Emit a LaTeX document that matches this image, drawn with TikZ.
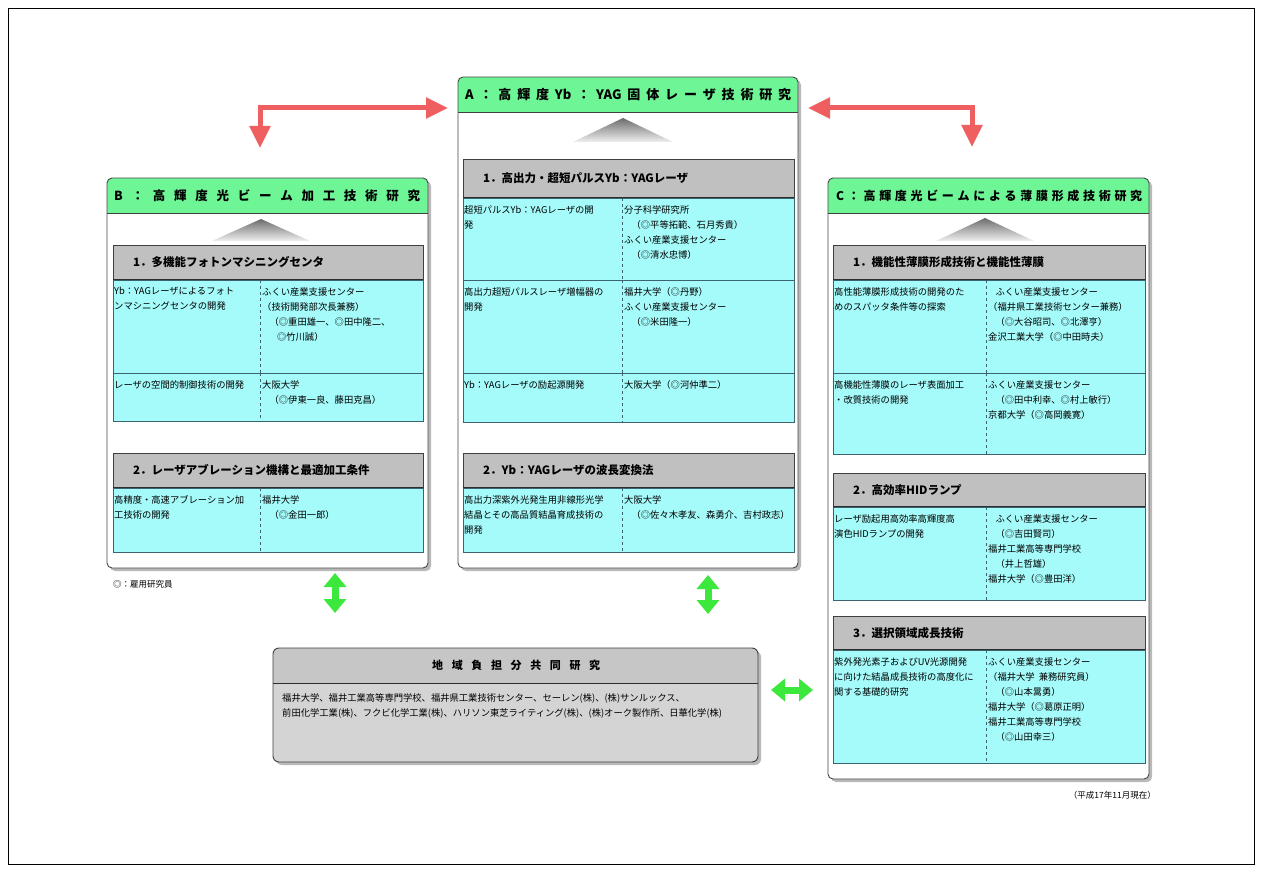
\documentclass[tikz,border=0pt]{standalone}
\usepackage{fontspec}
\setmainfont{Noto Sans CJK JP}
\usetikzlibrary{arrows.meta}
\definecolor{hdgreen}{RGB}{110,245,150}
\definecolor{cellcyan}{RGB}{165,250,250}
\definecolor{secgray}{RGB}{192,192,192}
\definecolor{botgray}{RGB}{212,212,212}
\definecolor{redarr}{RGB}{240,95,95}
\definecolor{grnarr}{RGB}{60,232,60}
\definecolor{lineteal}{RGB}{60,100,110}
\def\spr#1{\sprA#1\sprend}
\def\sprA#1#2\sprend{#1\ifx\sprend#2\sprend\else\hfill\sprA#2\sprend\fi}
\newcommand\ind{\hspace*{0.8em}}
% big box: name, x1, y1, x2, y2
\newcommand\bigbox[5]{%
  \fill[gray!55,rounded corners=5pt] (#2+3,#3+3) rectangle (#4+3,#5+3);
  \fill[white,rounded corners=5pt] (#2,#3) rectangle (#4,#5);
  \begin{scope}
    \clip[rounded corners=5pt] (#2,#3) rectangle (#4,#5);
    \fill[hdgreen] (#2,#3) rectangle (#4,#3+35);
  \end{scope}
  \draw[gray!50!black,line width=0.9pt] (#2,#3+35) -- (#4,#3+35);
  \draw[gray!55!black,line width=0.9pt,rounded corners=5pt] (#2,#3) rectangle (#4,#5);
  \coordinate (#1-nw) at (#2,#3);
  \coordinate (#1-ne) at (#4,#3);
}
% triangle: apex x, apex y, half width, base y
\newcommand\tri[4]{%
  \shade[top color=gray!85!black,bottom color=gray!12] (#1,#2) -- (#1+#3,#4) -- (#1-#3,#4) -- cycle;
}
% section header: name, x1, y1, x2, y2, text
\newcommand\sechd[6]{%
  \filldraw[sechead] (#2,#3) rectangle (#4,#5);
  \draw[gray!35!black,line width=1.3pt] (#2,#5) -- (#4,#5);
  \node[sectxt] (#1) at (#2+20,{(#3+#5)/2}) {#6};
}
% cell row: name, x1, y1, x2, y2, divider x, left text, right text
\newcommand\crow[8]{%
  \filldraw[cellbox] (#2,#3) rectangle (#4,#5);
  \draw[divline] (#6,#3) -- (#6,#5);
  \node[celltxt] (#1L) at (#2+1,#3+7) {#7};
  \node[celltxt] (#1R) at (#6+2,#3+7) {#8};
}
\begin{document}
\begin{tikzpicture}[x=1pt,y=-1pt,
  sechead/.style={fill=secgray,draw=gray!50!black,line width=0.8pt},
  cellbox/.style={fill=cellcyan,draw=lineteal,line width=0.9pt},
  divline/.style={draw=lineteal,dashed,line width=0.6pt},
  celltxt/.style={inner sep=0pt,align=left,anchor=north west,font=\fontsize{9.3}{15}\selectfont},
  sectxt/.style={inner sep=0pt,anchor=west,font=\fontsize{11.5}{14}\selectfont\bfseries},
  titletxt/.style={inner sep=0pt,anchor=west},
  notetxt/.style={inner sep=0pt,font=\fontsize{8.5}{10}\selectfont},
  redarrow/.style={draw=redarr,line width=5pt,{Triangle[width=20pt,length=22pt]}-{Triangle[width=20pt,length=22pt]}},
  grnarrow/.style={draw=grnarr,line width=7pt,{Triangle[width=22pt,length=14pt]}-{Triangle[width=22pt,length=14pt]}},
]
\useasboundingbox (0,0) rectangle (1262,872);
\fill[white] (0,0) rectangle (1262,872);
\draw[black,line width=0.8pt] (8,8) rectangle (1254,864);

% ---------------- Box A ----------------
\bigbox{A}{458}{77}{798}{568}
\node[titletxt,font=\fontsize{13}{15}\selectfont\bfseries] (Atitle) at (465,94.5)
  {\makebox[326pt][s]{\spr{A：高輝度{Yb}：{YAG}固体レーザ技術研究}}};
\tri{623}{118}{50}{142}
\sechd{A1}{463}{159}{794}{198}{1．高出力・超短パルスYb：YAGレーザ}
\crow{A1a}{463}{198}{794}{280}{622}
  {超短パルスYb：YAGレーザの開\\発}
  {分子科学研究所\\\ind（◎平等拓範、石月秀貴）\\ふくい産業支援センター\\\ind（◎清水忠博）}
\crow{A1b}{463}{280}{794}{373}{622}
  {高出力超短パルスレーザ増幅器の\\開発}
  {福井大学（◎丹野）\\ふくい産業支援センター\\\ind（◎米田隆一）}
\crow{A1c}{463}{373}{794}{422}{622}
  {Yb：YAGレーザの励起源開発}
  {大阪大学（◎河仲準二）}
\sechd{A2}{463}{453}{794}{488}{2．Yb：YAGレーザの波長変換法}
\crow{A2a}{463}{488}{794}{552}{622}
  {高出力深紫外光発生用非線形光学\\結晶とその高品質結晶育成技術の\\開発}
  {大阪大学\\\ind（◎佐々木孝友、森勇介、吉村政志）}

% ---------------- Box B ----------------
\bigbox{B}{107}{178}{428}{568}
\node[titletxt,font=\fontsize{12.5}{15}\selectfont\bfseries] (Btitle) at (114,195.5)
  {\makebox[306pt][s]{\spr{B：高輝度光ビーム加工技術研究}}};
\tri{261}{219}{49}{241}
\sechd{B1}{113}{245}{423}{280}{1．多機能フォトンマシニングセンタ}
\crow{B1a}{113}{280}{423}{373}{260}
  {Yb：YAGレーザによるフォト\\ンマシニングセンタの開発}
  {ふくい産業支援センター\\（技術開発部次長兼務）\\\ind（◎重田雄一、◎田中隆二、\\\ind\ind◎竹川誠）}
\crow{B1b}{113}{373}{423}{421}{260}
  {レーザの空間的制御技術の開発}
  {大阪大学\\\ind（◎伊東一良、藤田克昌）}
\sechd{B2}{113}{453}{423}{488}{2．レーザアブレーション機構と最適加工条件}
\crow{B2a}{113}{488}{423}{552}{260}
  {高精度・高速アブレーション加\\工技術の開発}
  {福井大学\\\ind（◎金田一郎）}
\node[notetxt,anchor=west] (note) at (113,584) {◎：雇用研究員};

% ---------------- Box C ----------------
\bigbox{C}{828}{178}{1149}{779}
\node[titletxt,font=\fontsize{12}{15}\selectfont\bfseries] (Ctitle) at (836,195.5)
  {\makebox[306pt][s]{\spr{C：高輝度光ビームによる薄膜形成技術研究}}};
\tri{985}{218}{49}{241}
\sechd{C1}{833}{245}{1145}{280}{1．機能性薄膜形成技術と機能性薄膜}
\crow{C1a}{833}{280}{1145}{373}{986}
  {高性能薄膜形成技術の開発のた\\めのスパッタ条件等の探索}
  {\ind ふくい産業支援センター\\（福井県工業技術センター兼務）\\\ind（◎大谷昭司、◎北澤亨）\\金沢工業大学（◎中田時夫）}
\crow{C1b}{833}{373}{1145}{454}{986}
  {高機能性薄膜のレーザ表面加工\\・改質技術の開発}
  {ふくい産業支援センター\\\ind（◎田中利幸、◎村上敏行）\\京都大学（◎高岡義寛）}
\sechd{C2}{833}{473}{1145}{507}{2．高効率HIDランプ}
\crow{C2a}{833}{507}{1145}{600}{986}
  {レーザ励起用高効率高輝度高\\演色HIDランプの開発}
  {\ind ふくい産業支援センター\\\ind（◎吉田賢司）\\福井工業高等専門学校\\\ind（井上哲雄）\\福井大学（◎豊田洋）}
\sechd{C3}{833}{616}{1145}{650}{3．選択領域成長技術}
\crow{C3a}{833}{650}{1145}{763}{986}
  {紫外発光素子およびUV光源開発\\に向けた結晶成長技術の高度化に\\関する基礎的研究}
  {ふくい産業支援センター\\（福井大学\ \ 兼務研究員）\\\ind（◎山本暠勇）\\福井大学（◎葛原正明）\\福井工業高等専門学校\\\ind（◎山田幸三）}
\node[notetxt,anchor=east] (date) at (1156,795) {（平成17年11月現在）};

% ---------------- Bottom box ----------------
\fill[gray!55,rounded corners=6pt] (276,651) rectangle (761,765);
\fill[botgray,rounded corners=6pt] (273,648) rectangle (758,762);
\begin{scope}
  \clip[rounded corners=6pt] (273,648) rectangle (758,762);
  \fill[secgray!90] (273,648) rectangle (758,683);
\end{scope}
\draw[gray!35!black,line width=1pt] (273,683) -- (758,683);
\draw[gray!50!black,line width=0.9pt,rounded corners=6pt] (273,648) rectangle (758,762);
\node[titletxt,font=\fontsize{11}{13}\selectfont\bfseries] (Dtitle) at (432,665.5)
  {\makebox[168pt][s]{\spr{地域負担分共同研究}}};
\node[celltxt] (Dtext) at (282,693)
  {福井大学、福井工業高等専門学校、福井県工業技術センター、セーレン(株)、(株)サンルックス、\\前田化学工業(株)、フクビ化学工業(株)、ハリソン東芝ライティング(株)、(株)オーク製作所、日華化学(株)};

% ---------------- Arrows ----------------
\coordinate (rB) at (260,148);
\coordinate (rA1) at (448,108);
\coordinate (rA2) at (808,108);
\coordinate (rC) at (972,147);
\draw[redarrow] (rB) |- (rA1);
\draw[redarrow] (rA2) -| (rC);

\coordinate (g1a) at (335,573);
\coordinate (g1b) at (335,613);
\coordinate (g2a) at (708,575);
\coordinate (g2b) at (708,614);
\coordinate (g3a) at (771,690);
\coordinate (g3b) at (813,690);
\draw[grnarrow] (g1a) -- (g1b);
\draw[grnarrow] (g2a) -- (g2b);
\draw[grnarrow] (g3a) -- (g3b);
\end{tikzpicture}
\end{document}
